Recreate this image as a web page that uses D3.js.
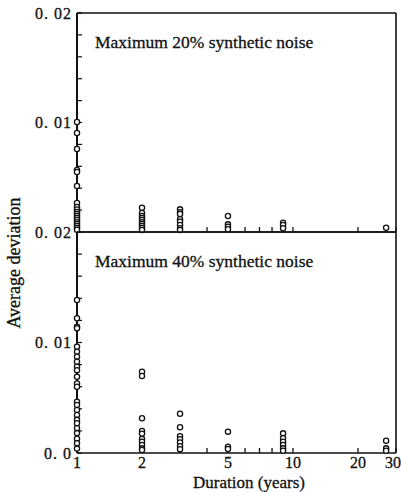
<!DOCTYPE html>
<html>
<head>
<meta charset="utf-8">
<script src="https://cdn.jsdelivr.net/npm/d3@7"></script>
<style>
    body { margin: 0; background: #fff; }
    text { stroke: #111; stroke-width: 0.3px; }
</style>
</head>
<body>
<div id="chart"></div>
<script>
// durations (years) where the points sit
let durations = [1, 2, 3, 5, 9, 27];

// average deviation, maximum 20% synthetic noise (one list per duration)
let noise20 = [
    [0.01005, 0.00904, 0.00758, 0.00566, 0.00548, 0.0042, 0.00265, 0.00228, 0.00205, 0.00183,
     0.00165, 0.00146, 0.00128, 0.0011, 0.0009, 0.00073, 0.00055, 0.00037, 0.0002],
    [0.00222, 0.00174, 0.00146, 0.00128, 0.0011, 0.0009, 0.00073, 0.00055, 0.00037, 0.00018],
    [0.00207, 0.0018, 0.00164, 0.00116, 0.00094, 0.00064, 0.00034, 0.00018],
    [0.00146, 0.0007, 0.00048, 0.00025],
    [0.00085, 0.00064, 0.00034],
    [0.00039]
];

// average deviation, maximum 40% synthetic noise
let noise40 = [
    [0.01385, 0.01219, 0.01143, 0.0113, 0.00962, 0.00917, 0.00872, 0.00826, 0.0078, 0.0075,
     0.0069, 0.0063, 0.006, 0.00464, 0.00434, 0.00389, 0.00344, 0.003, 0.0027, 0.00224,
     0.0018, 0.0013, 0.00088, 0.0004],
    [0.00736, 0.00697, 0.00314, 0.002, 0.00175, 0.00127, 0.00102, 0.00072, 0.00042, 0.00027],
    [0.00355, 0.00233, 0.00151, 0.00124, 0.00095, 0.00062, 0.00035],
    [0.00193, 0.00057, 0.00036],
    [0.00178, 0.00133, 0.00102, 0.00072, 0.00042, 0.0002],
    [0.00111, 0.00042, 0.0002]
];

let xTickValues = [1, 2, 3, 4, 5, 6, 7, 8, 9, 10, 20, 30];
let xTickLabels = [1, 2, 5, 10, 20, 30];
let yTickValues = d3.range(0, 0.0201, 0.002);
let topYLabels = [[0.02, "0. 02"], [0.01, "0. 01"]];
let bottomYLabels = [[0.02, "0. 02"], [0.01, "0. 01"], [0, "0. 0"]];
let titles = ["Maximum 20% synthetic noise", "Maximum 40% synthetic noise"];

let width = 401, height = 492;
let left = 77, right = 396;
let serif = "'Liberation Serif', 'LiberationSerif', 'DejaVu Serif', 'Noto Serif', 'Times New Roman', Times, serif";

let svg = d3.select("#chart").append("svg")
    .attr("width", width)
    .attr("height", height)
    .attr("font-family", serif);

let x = d3.scaleLog().domain([1, 30]).range([left, right]);

let panels = [
    { data: noise20, y: d3.scaleLinear().domain([0, 0.02]).range([232, 13]), labels: topYLabels, title: titles[0] },
    { data: noise40, y: d3.scaleLinear().domain([0, 0.02]).range([453, 232]), labels: bottomYLabels, title: titles[1] }
];

panels.forEach(function (p, i) {
    let g = svg.append("g");
    let y = p.y;
    let top = y(0.02), bottom = y(0);

    // frame
    g.append("line").attr("x1", left).attr("x2", right).attr("y1", top).attr("y2", top)
        .attr("stroke", "#111").attr("stroke-width", 1.4);
    g.append("line").attr("x1", right).attr("x2", right).attr("y1", top).attr("y2", bottom)
        .attr("stroke", "#111").attr("stroke-width", 1.6);
    g.append("line").attr("x1", left).attr("x2", right).attr("y1", bottom).attr("y2", bottom)
        .attr("stroke", "#111").attr("stroke-width", 1.5);

    // x ticks point inward (up)
    g.selectAll(".xtick")
        .data(xTickValues)
        .enter().append("line")
        .attr("x1", d => x(d)).attr("x2", d => x(d))
        .attr("y1", bottom).attr("y2", bottom - 5)
        .attr("stroke", "#111").attr("stroke-width", 1.3);

    // y ticks point inward (right)
    g.selectAll(".ytick")
        .data(yTickValues)
        .enter().append("line")
        .attr("x1", left).attr("x2", left + 5)
        .attr("y1", d => y(d)).attr("y2", d => y(d))
        .attr("stroke", "#111").attr("stroke-width", 1.2);

    g.append("line").attr("x1", left).attr("x2", left).attr("y1", top).attr("y2", bottom)
        .attr("stroke", "#111").attr("stroke-width", 2);

    // y labels
    g.selectAll(".ylab")
        .data(p.labels)
        .enter().append("text")
        .attr("x", left - 5)
        .attr("y", d => y(d[0]))
        .attr("dy", "0.35em")
        .attr("text-anchor", "end")
        .attr("font-size", 16)
        .attr("letter-spacing", 1)
        .attr("fill", "#111")
        .text(d => d[1]);

    g.append("text")
        .attr("x", 95)
        .attr("y", top + 35)
        .attr("font-size", 17.5)
        .attr("fill", "#111")
        .text(p.title);

    // points
    let pts = [];
    p.data.forEach(function (vals, j) {
        vals.forEach(function (v) { pts.push({ d: durations[j], v: v }); });
    });

    g.selectAll("circle")
        .data(pts)
        .enter().append("circle")
        .attr("cx", d => x(d.d))
        .attr("cy", d => y(d.v))
        .attr("r", 2.6)
        .attr("fill", "#fff")
        .attr("stroke", "#111")
        .attr("stroke-width", 1.3);
});

// x tick labels
svg.selectAll(".xlab")
    .data(xTickLabels)
    .enter().append("text")
    .attr("x", d => d === 30 ? x(d) - 3 : x(d))
    .attr("y", 468)
    .attr("text-anchor", "middle")
    .attr("font-size", 16)
    .attr("fill", "#111")
    .text(d => d);

svg.append("text")
    .attr("x", 249)
    .attr("y", 488)
    .attr("text-anchor", "middle")
    .attr("font-size", 17)
    .attr("fill", "#111")
    .text("Duration (years)");

svg.append("text")
    .attr("transform", "translate(20,263) rotate(-90)")
    .attr("text-anchor", "middle")
    .attr("font-size", 18)
    .attr("fill", "#111")
    .text("Average deviation");
</script>
</body>
</html>
